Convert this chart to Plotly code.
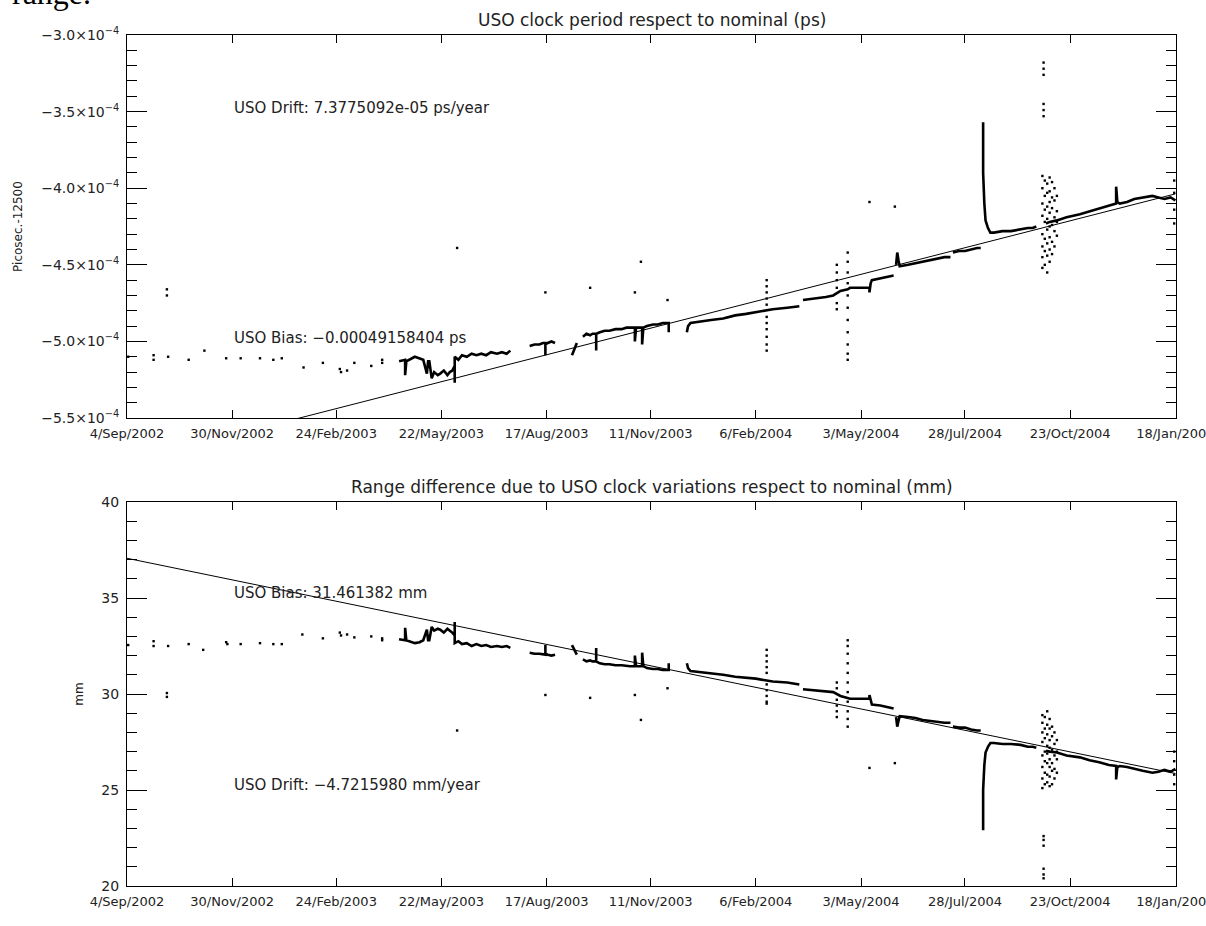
import pandas as pd
import plotly.graph_objects as go

# ---------------- data ----------------
START = pd.Timestamp("2002-09-04")
X_END = "2005-01-18 12:00"

tick_dates = ["2002-09-04", "2002-11-30", "2003-02-24", "2003-05-22", "2003-08-17",
              "2003-11-11", "2004-02-06", "2004-05-03", "2004-07-28", "2004-10-23", "2005-01-18"]
tick_labels = ["4/Sep/2002", "30/Nov/2002", "24/Feb/2003", "22/May/2003", "17/Aug/2003",
               "11/Nov/2003", "6/Feb/2004", "3/May/2004", "28/Jul/2004", "23/Oct/2004", "18/Jan/2005"]

top_tickvals = [-5.5e-4, -5.0e-4, -4.5e-4, -4.0e-4, -3.5e-4, -3.0e-4]
top_tick_mantissa = ["−5.5", "−5.0", "−4.5", "−4.0", "−3.5", "−3.0"]
top_tick_exponent = "−4"
bot_tickvals = [20, 25, 30, 35, 40]

# linear fits (days since 4/Sep/2002)
fit_days = [0, 867]
top_fit = [-5.788e-4, -4.037e-4]
bot_fit = [37.07, 25.86]

# dense measurement runs: (days since start, value)
top_segments = [
    [(225, -5.13e-4), (230, -5.12e-4), (230, -5.22e-4), (231, -5.13e-4), (238, -5.10e-4), (242, -5.11e-4),
     (245, -5.12e-4), (248, -5.21e-4), (249, -5.13e-4), (250, -5.13e-4), (252, -5.24e-4), (254, -5.20e-4),
     (257, -5.22e-4), (259, -5.21e-4), (262, -5.19e-4), (265, -5.22e-4), (267, -5.20e-4), (269, -5.19e-4),
     (271, -5.16e-4), (271, -5.27e-4), (271, -5.10e-4), (274, -5.12e-4), (277, -5.09e-4), (281, -5.10e-4),
     (285, -5.08e-4), (289, -5.09e-4), (293, -5.08e-4), (297, -5.09e-4), (301, -5.07e-4), (306, -5.08e-4),
     (310, -5.07e-4), (314, -5.08e-4), (317, -5.06e-4)],
    [(333, -5.03e-4), (337, -5.02e-4), (341, -5.02e-4), (344, -5.01e-4), (346, -5.01e-4), (346, -5.09e-4),
     (346, -5.02e-4), (348, -5.01e-4), (351, -5.00e-4), (354, -5.01e-4)],
    [(368, -5.09e-4), (370, -5.05e-4), (372, -5.01e-4)],
    [(377, -4.97e-4), (380, -4.95e-4), (383, -4.96e-4), (385, -4.95e-4), (388, -4.95e-4), (388, -5.06e-4),
     (388, -4.95e-4), (391, -4.94e-4), (395, -4.93e-4), (399, -4.93e-4), (404, -4.92e-4), (409, -4.92e-4),
     (413, -4.91e-4), (416, -4.91e-4), (420, -4.91e-4), (420, -5.00e-4), (421, -4.91e-4), (426, -4.91e-4),
     (426, -5.02e-4), (427, -4.91e-4), (430, -4.90e-4), (435, -4.89e-4), (439, -4.89e-4), (443, -4.88e-4),
     (447, -4.88e-4), (448, -4.88e-4), (448, -4.94e-4)],
    [(463, -4.94e-4), (464, -4.90e-4), (466, -4.88e-4), (473, -4.87e-4), (483, -4.86e-4), (493, -4.85e-4),
     (503, -4.83e-4), (512, -4.82e-4), (520, -4.81e-4), (529, -4.80e-4), (534, -4.79e-4), (546, -4.78e-4),
     (556, -4.77e-4)],
    [(559, -4.73e-4), (569, -4.72e-4), (578, -4.71e-4), (584, -4.70e-4), (590, -4.67e-4), (596, -4.66e-4),
     (598, -4.65e-4), (606, -4.65e-4), (614, -4.65e-4), (614, -4.68e-4), (615, -4.62e-4), (616, -4.60e-4),
     (623, -4.59e-4), (630, -4.58e-4), (634, -4.57e-4)],
    [(636, -4.50e-4), (637, -4.42e-4), (638, -4.47e-4), (639, -4.51e-4), (646, -4.50e-4), (652, -4.49e-4),
     (658, -4.48e-4), (664, -4.47e-4), (670, -4.46e-4), (676, -4.45e-4), (681, -4.45e-4)],
    [(683, -4.42e-4), (688, -4.41e-4), (693, -4.41e-4), (698, -4.40e-4), (703, -4.39e-4), (706, -4.39e-4)],
    [(708, -3.57e-4), (708, -3.90e-4), (709, -4.10e-4), (710, -4.21e-4), (712, -4.26e-4), (714, -4.29e-4),
     (717, -4.29e-4), (724, -4.28e-4), (731, -4.28e-4), (739, -4.27e-4), (745, -4.26e-4), (749, -4.26e-4),
     (752, -4.25e-4)],
    [(760, -4.23e-4), (763, -4.22e-4), (769, -4.21e-4), (777, -4.19e-4), (788, -4.17e-4), (796, -4.15e-4),
     (804, -4.13e-4), (812, -4.11e-4), (818, -4.10e-4), (818, -3.99e-4), (819, -4.09e-4), (821, -4.10e-4),
     (827, -4.09e-4), (833, -4.07e-4), (840, -4.06e-4), (848, -4.05e-4), (853, -4.06e-4), (858, -4.07e-4),
     (863, -4.06e-4), (867, -4.08e-4)],
]

# sparse points, outliers and scattered columns
top_dots = [
    (1, -5.10e-4), (22, -5.09e-4), (22, -5.12e-4), (34, -5.10e-4), (33, -4.66e-4), (33, -4.70e-4),
    (51, -5.12e-4), (64, -5.06e-4), (82, -5.11e-4), (94, -5.11e-4), (110, -5.11e-4), (121, -5.12e-4),
    (128, -5.11e-4), (146, -5.17e-4), (162, -5.14e-4), (176, -5.18e-4), (177, -5.20e-4), (182, -5.19e-4),
    (188, -5.14e-4), (202, -5.16e-4), (211, -5.12e-4), (211, -5.14e-4),
    (273, -4.39e-4), (346, -4.68e-4), (383, -4.65e-4), (420, -4.68e-4), (425, -4.48e-4), (447, -4.73e-4),
    (614, -4.09e-4), (635, -4.12e-4),
    (529, -4.60e-4), (529, -4.64e-4), (529, -4.68e-4), (529, -4.72e-4), (529, -4.76e-4), (529, -4.84e-4),
    (529, -4.88e-4), (529, -4.92e-4), (529, -4.97e-4), (529, -5.02e-4), (529, -5.06e-4),
    (587, -4.50e-4), (587, -4.55e-4), (587, -4.60e-4), (587, -4.65e-4), (587, -4.75e-4), (587, -4.79e-4),
    (596, -4.42e-4), (596, -4.48e-4), (596, -4.55e-4), (596, -4.62e-4), (596, -4.70e-4), (596, -4.78e-4),
    (596, -4.86e-4), (596, -4.94e-4), (596, -5.02e-4), (596, -5.08e-4), (596, -5.12e-4),
    (758, -3.18e-4), (758, -3.22e-4), (758, -3.26e-4), (758, -3.45e-4), (758, -3.49e-4), (758, -3.53e-4),
    (757, -3.92e-4), (757, -4.00e-4), (757, -4.10e-4), (757, -4.18e-4), (757, -4.30e-4), (757, -4.38e-4),
    (757, -4.45e-4), (757, -4.52e-4),
    (759, -3.95e-4), (759, -4.05e-4), (759, -4.14e-4), (759, -4.22e-4), (759, -4.33e-4), (759, -4.41e-4),
    (759, -4.50e-4),
    (761, -3.97e-4), (761, -4.03e-4), (761, -4.12e-4), (761, -4.20e-4), (761, -4.27e-4), (761, -4.36e-4),
    (761, -4.44e-4), (761, -4.55e-4),
    (763, -3.93e-4), (763, -4.02e-4), (763, -4.09e-4), (763, -4.16e-4), (763, -4.25e-4), (763, -4.32e-4),
    (763, -4.40e-4), (763, -4.48e-4),
    (765, -3.96e-4), (765, -4.06e-4), (765, -4.13e-4), (765, -4.24e-4), (765, -4.35e-4), (765, -4.43e-4),
    (767, -4.00e-4), (767, -4.08e-4), (767, -4.19e-4), (767, -4.28e-4), (767, -4.38e-4),
    (769, -4.05e-4), (769, -4.15e-4), (769, -4.22e-4), (769, -4.31e-4),
    (866, -3.95e-4), (866, -4.03e-4), (866, -4.14e-4), (866, -4.23e-4),
]

bot_segments = [
    [(225, 32.85), (230, 32.8), (230, 33.45), (231, 32.8), (238, 32.65), (242, 32.7), (245, 32.8),
     (248, 33.35), (249, 32.8), (250, 32.8), (252, 33.5), (254, 33.3), (257, 33.4), (259, 33.35),
     (262, 33.2), (265, 33.4), (267, 33.3), (269, 33.2), (271, 33.05), (271, 33.75), (271, 32.65),
     (274, 32.75), (277, 32.6), (281, 32.65), (285, 32.5), (289, 32.6), (293, 32.5), (297, 32.55),
     (301, 32.45), (306, 32.5), (310, 32.45), (314, 32.5), (317, 32.4)],
    [(333, 32.15), (337, 32.1), (341, 32.1), (344, 32.05), (346, 32.05), (346, 32.55), (346, 32.1),
     (348, 32.05), (351, 32.0), (354, 32.05)],
    [(368, 32.55), (370, 32.3), (372, 32.05)],
    [(377, 31.8), (380, 31.7), (383, 31.75), (385, 31.7), (388, 31.7), (388, 32.4), (388, 31.7),
     (391, 31.6), (395, 31.55), (399, 31.55), (404, 31.5), (409, 31.5), (413, 31.45), (416, 31.45),
     (420, 31.45), (420, 32.0), (421, 31.45), (426, 31.45), (426, 32.15), (427, 31.45), (430, 31.35),
     (435, 31.3), (439, 31.3), (443, 31.25), (447, 31.25), (448, 31.25), (448, 31.6)],
    [(463, 31.6), (464, 31.35), (466, 31.2), (473, 31.15), (483, 31.1), (493, 31.0), (503, 30.9),
     (512, 30.85), (520, 30.8), (529, 30.7), (534, 30.65), (546, 30.6), (556, 30.5)],
    [(559, 30.25), (569, 30.2), (578, 30.15), (584, 30.1), (590, 29.9), (596, 29.8), (598, 29.75),
     (606, 29.75), (614, 29.75), (614, 29.95), (615, 29.6), (616, 29.45), (623, 29.4), (630, 29.3),
     (634, 29.25)],
    [(636, 28.8), (637, 28.3), (638, 28.6), (639, 28.85), (646, 28.8), (652, 28.75), (658, 28.65),
     (664, 28.6), (670, 28.55), (676, 28.5), (681, 28.5)],
    [(683, 28.3), (688, 28.25), (693, 28.25), (698, 28.15), (703, 28.1), (706, 28.1)],
    [(708, 22.9), (708, 25.0), (709, 26.3), (710, 26.95), (712, 27.25), (714, 27.45), (717, 27.45),
     (724, 27.4), (731, 27.4), (739, 27.35), (745, 27.25), (749, 27.25), (752, 27.2)],
    [(760, 27.05), (763, 27.0), (769, 26.95), (777, 26.8), (788, 26.7), (796, 26.55), (804, 26.45),
     (812, 26.3), (818, 26.25), (818, 25.55), (819, 26.2), (821, 26.25), (827, 26.2), (833, 26.1),
     (840, 26.0), (848, 25.9), (853, 25.95), (858, 26.05), (863, 25.95), (867, 26.1)],
]

bot_dots = [
    (1, 32.55), (22, 32.75), (22, 32.5), (34, 32.5), (33, 30.05), (33, 29.85), (51, 32.6), (63, 32.3),
    (82, 32.7), (83, 32.6), (94, 32.6), (110, 32.65), (121, 32.6), (128, 32.6), (145, 33.1), (162, 32.9),
    (176, 33.2), (177, 33.05), (182, 33.1), (188, 32.95), (202, 33.0), (211, 32.8), (211, 32.9),
    (273, 28.1), (346, 29.95), (383, 29.8), (420, 29.95), (425, 28.65), (447, 30.3), (614, 26.15), (635, 26.4),
    (529, 32.3), (529, 32.0), (529, 31.7), (529, 31.4), (529, 31.1), (529, 30.5), (529, 30.2), (529, 29.9),
    (529, 29.6), (529, 29.5),
    (587, 28.8), (587, 29.1), (587, 29.4), (587, 29.7), (587, 30.3), (587, 30.6),
    (596, 28.3), (596, 28.7), (596, 29.1), (596, 29.6), (596, 30.1), (596, 30.6), (596, 31.1), (596, 31.6),
    (596, 32.1), (596, 32.5), (596, 32.8),
    (758, 20.4), (758, 20.6), (758, 20.9), (758, 22.1), (758, 22.4), (758, 22.6),
    (757, 25.1), (757, 25.6), (757, 26.2), (757, 26.8), (757, 27.5), (757, 28.0), (757, 28.5), (757, 28.9),
    (759, 25.3), (759, 25.9), (759, 26.5), (759, 27.0), (759, 27.7), (759, 28.2), (759, 28.8),
    (761, 25.4), (761, 25.8), (761, 26.4), (761, 26.9), (761, 27.3), (761, 27.9), (761, 28.4), (761, 29.1),
    (763, 25.2), (763, 25.7), (763, 26.2), (763, 26.6), (763, 27.2), (763, 27.6), (763, 28.2), (763, 28.7),
    (765, 25.3), (765, 26.0), (765, 26.4), (765, 27.1), (765, 27.8), (765, 28.3),
    (767, 25.6), (767, 26.1), (767, 26.8), (767, 27.4), (767, 28.0),
    (769, 25.9), (769, 26.6), (769, 27.0), (769, 27.6),
    (866, 25.3), (866, 25.8), (866, 26.5), (866, 27.0),
]

# ---------------- helpers ----------------
def to_date(d):
    return START + pd.Timedelta(days=d)

def seg_xy(segments):
    xs, ys = [], []
    for seg in segments:
        for d, v in seg:
            xs.append(to_date(d))
            ys.append(v)
        xs.append(None)
        ys.append(None)
    return xs, ys

def dot_xy(dots):
    return [to_date(d) for d, _ in dots], [v for _, v in dots]

FONT = "DejaVu Sans"
INK = "#222222"

top_ticktext = [m + "×10<sup>" + top_tick_exponent + "</sup>" for m in top_tick_mantissa]

fig = go.Figure()

for xa, ya, segs, dots, fit in [("x", "y", top_segments, top_dots, top_fit),
                                ("x2", "y2", bot_segments, bot_dots, bot_fit)]:
    fig.add_trace(go.Scatter(x=[to_date(d) for d in fit_days], y=fit, mode="lines",
                             line=dict(color="black", width=1), xaxis=xa, yaxis=ya,
                             showlegend=False, hoverinfo="skip"))
    sx, sy = seg_xy(segs)
    fig.add_trace(go.Scatter(x=sx, y=sy, mode="lines", line=dict(color="black", width=2.6),
                             connectgaps=False, xaxis=xa, yaxis=ya, showlegend=False))
    dx, dy = dot_xy(dots)
    fig.add_trace(go.Scatter(x=dx, y=dy, mode="markers",
                             marker=dict(color="black", size=2.4, symbol="square", line=dict(width=0)),
                             xaxis=xa, yaxis=ya, showlegend=False))

xcommon = dict(type="date", range=[START, X_END], tickmode="array", tickvals=tick_dates,
               ticktext=tick_labels, ticks="inside", ticklen=8, tickcolor="black",
               mirror="ticks", showline=True, linecolor="black", linewidth=1,
               showgrid=False, zeroline=False, tickfont=dict(family=FONT, size=13, color=INK),
               ticklabelstandoff=3, ticklabeloverflow="allow", automargin=False)
ycommon = dict(ticks="inside", ticklen=20, tickcolor="black", mirror="ticks", showline=True,
               linecolor="black", linewidth=1, showgrid=False, zeroline=False,
               tickfont=dict(family=FONT, size=14, color=INK), ticklabelstandoff=4,
               automargin=False)

TOP_DOM = [0.5499, 1.0]
BOT_DOM = [0.0, 0.4512]

fig.update_layout(
    width=1206, height=926,
    margin=dict(l=127, r=30, t=35, b=40, autoexpand=False),
    paper_bgcolor="white", plot_bgcolor="white",
    xaxis=dict(domain=[0, 1], anchor="y", **xcommon),
    yaxis=dict(domain=TOP_DOM, anchor="x", range=[-5.5e-4, -3.0e-4], tickmode="array",
               tickvals=top_tickvals, ticktext=top_ticktext,
               minor=dict(tickmode="linear", tick0=-5.5e-4, dtick=1e-5, ticks="inside",
                          ticklen=10, tickcolor="black", showgrid=False),
               title=dict(text="Picosec.-12500", font=dict(family=FONT, size=12, color=INK)),
               **ycommon),
    xaxis2=dict(domain=[0, 1], anchor="y2", **xcommon),
    yaxis2=dict(domain=BOT_DOM, anchor="x2", range=[20, 40], tickmode="linear", tick0=20, dtick=5,
                minor=dict(tickmode="linear", tick0=20, dtick=1, ticks="inside", ticklen=10,
                           tickcolor="black", showgrid=False),
                title=dict(text="mm", font=dict(family=FONT, size=12, color=INK)),
                **ycommon),
    font=dict(family=FONT, color=INK),
)

ann_font = dict(family=FONT, size=15, color=INK)
fig.add_annotation(text="USO clock period respect to nominal (ps)", xref="paper", yref="paper",
                   x=0.5, y=1.0, yanchor="bottom", yshift=3, showarrow=False,
                   font=dict(family=FONT, size=17, color=INK))
fig.add_annotation(text="Range difference due to USO clock variations respect to nominal (mm)",
                   xref="paper", yref="paper", x=0.5, y=BOT_DOM[1], yanchor="bottom", yshift=3,
                   showarrow=False, font=dict(family=FONT, size=17, color=INK))

fig.add_annotation(text="USO Drift: 7.3775092e-05 ps/year", xref="x", yref="y",
                   x=to_date(87), y=-3.476e-4, xanchor="left", yanchor="middle",
                   showarrow=False, font=ann_font)
fig.add_annotation(text="USO Bias: −0.00049158404 ps", xref="x", yref="y",
                   x=to_date(87), y=-4.978e-4, xanchor="left", yanchor="middle",
                   showarrow=False, font=ann_font)
fig.add_annotation(text="USO Bias: 31.461382 mm", xref="x2", yref="y2",
                   x=to_date(87), y=35.26, xanchor="left", yanchor="middle",
                   showarrow=False, font=ann_font)
fig.add_annotation(text="USO Drift: −4.7215980 mm/year", xref="x2", yref="y2",
                   x=to_date(87), y=25.26, xanchor="left", yanchor="middle",
                   showarrow=False, font=ann_font)

# caption fragment visible at the very top of the original page
fig.add_annotation(text="range.", xref="paper", yref="paper", x=(10 - 127) / 1049, y=1.026,
                   xanchor="left", yanchor="bottom", showarrow=False,
                   font=dict(family="Liberation Serif", size=32, color="black"))

fig.write_html("out.html")
